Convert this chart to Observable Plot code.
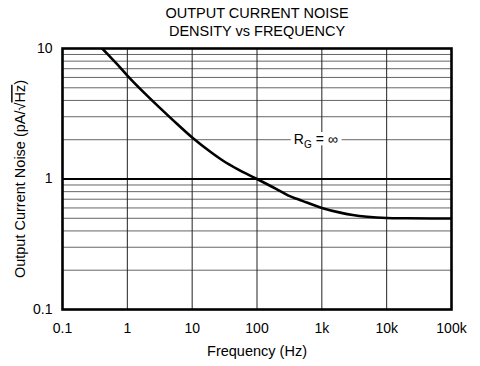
<!DOCTYPE html>
<html>
<head>
<meta charset="utf-8">
<script src="https://cdn.jsdelivr.net/npm/d3@7"></script>
<script src="https://cdn.jsdelivr.net/npm/@observablehq/plot@0.6"></script>
<style>
  html, body { margin: 0; padding: 0; background: #fff; }
  #chart { width: 480px; height: 366px; }
  svg { font-family: "Liberation Sans", Arial, Helvetica, sans-serif; }
</style>
</head>
<body>
<div id="chart"></div>
<script>
// ---- data ----
const titleLines = ["OUTPUT CURRENT NOISE", "DENSITY vs FREQUENCY"];
const xLabel = "Frequency (Hz)";
const yLabel = "Output Current Noise (pA/√Hz)";
const freq  = [0.41, 0.5, 0.7, 1, 2, 3, 5, 10, 20, 30, 50, 100, 200, 300, 500, 1000, 2000, 3000, 5000, 10000, 20000, 50000, 100000];
const noise = [10, 9.0, 7.55, 6.2, 4.37, 3.6, 2.84, 2.08, 1.59, 1.38, 1.19, 1.0, 0.836, 0.75, 0.68, 0.60, 0.55, 0.53, 0.514, 0.503, 0.50, 0.498, 0.498];
const xTicks = [0.1, 1, 10, 100, 1000, 10000, 100000];
const xTickLabels = ["0.1", "1", "10", "100", "1k", "10k", "100k"];
const yTicks = [0.1, 1, 10];
const yTickLabels = ["0.1", "1", "10"];
const yMinorGrid = [0.2, 0.3, 0.4, 0.5, 0.6, 0.7, 0.8, 0.9, 2, 3, 4, 5, 6, 7, 8, 9];
const xMajorGrid = [1, 10, 100, 1000, 10000];
const annotation = [{f: 370, v: 2.02, text: "RG = ∞"}];

const rows = freq.map((f, i) => ({f, v: noise[i]}));

const chart = Plot.plot({
  width: 480,
  height: 366,
  marginLeft: 62,
  marginRight: 29,
  marginTop: 48,
  marginBottom: 57,
  style: {fontFamily: '"Liberation Sans", Arial, sans-serif', fontSize: "14px", background: "#fff", color: "#000"},
  x: {type: "log", domain: [0.1, 100000]},
  y: {type: "log", domain: [0.1, 10]},
  marks: [
    Plot.ruleY(yMinorGrid, {stroke: "#555", strokeWidth: 0.9}),
    Plot.ruleX(xMajorGrid, {stroke: "#222", strokeWidth: 1}),
    Plot.ruleY([1], {stroke: "#000", strokeWidth: 2}),
    Plot.text(annotation, {x: "f", y: "v", text: "text", textAnchor: "start", fontSize: 14, fill: "white", stroke: "white", strokeWidth: 8}),
    Plot.text(annotation, {x: "f", y: "v", text: "text", textAnchor: "start", fontSize: 14, fill: "#000"}),
    Plot.line(rows, {x: "f", y: "v", curve: "monotone-x", stroke: "#000", strokeWidth: 2.6, clip: true}),
    Plot.frame({stroke: "#000", strokeWidth: 2.6}),
    Plot.axisX(xTicks, {tickSize: 0, tickPadding: 14, tickFormat: (d) => xTickLabels[xTicks.indexOf(d)], label: null, fontSize: 14}),
    Plot.axisY(yTicks, {tickSize: 0, tickPadding: 10, tickFormat: (d) => yTickLabels[yTicks.indexOf(d)], label: null, fontSize: 14}),
    Plot.text([titleLines[0]], {frameAnchor: "top", lineAnchor: "middle", dy: -35, fontSize: 14.5}),
    Plot.text([titleLines[1]], {frameAnchor: "top", lineAnchor: "middle", dy: -17, fontSize: 14.5}),
    Plot.text([xLabel], {frameAnchor: "bottom", lineAnchor: "middle", dy: 42, fontSize: 14.5}),
    Plot.text([yLabel], {frameAnchor: "left", textAnchor: "middle", lineAnchor: "middle", dx: -42, rotate: -90, fontSize: 14.5})
  ]
});

document.getElementById("chart").appendChild(chart);

// rich text: subscript and sqrt overline
d3.select(chart).selectAll("text").each(function () {
  const t = this.textContent;
  if (t === "RG = ∞") {
    this.innerHTML = 'R<tspan dy="4" font-size="10">G</tspan><tspan dy="-4"> = ∞</tspan>';
  } else if (t === yLabel) {
    this.innerHTML = 'Output Current Noise (pA/√<tspan style="text-decoration:overline">Hz</tspan>)';
  }
});
</script>
</body>
</html>
